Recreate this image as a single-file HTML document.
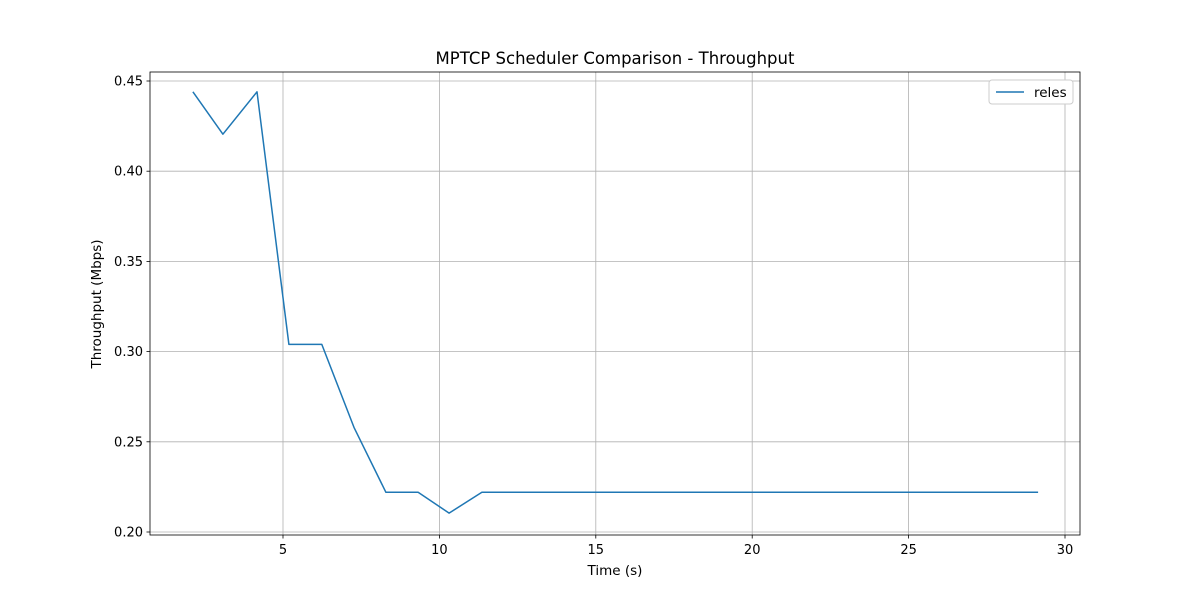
<!DOCTYPE html>
<html><head><meta charset="utf-8"><style>
body{margin:0;background:#fff;font-family:"Liberation Sans","DejaVu Sans",sans-serif}
svg text{font-family:"DejaVu Sans","Liberation Sans",sans-serif;fill:#000}
</style></head><body>
<svg id="chart" width="1200" height="600">
<rect width="1200" height="600" fill="#fff"/>
<g id="grid"></g>
<g id="xt"></g>
<g id="yt"></g>
<path id="line" fill="none" stroke="#1f77b4" stroke-width="1.5" stroke-linejoin="round"/>
<rect x="150" y="72" width="930" height="463" fill="none" stroke="#000" stroke-width="0.8"/>
<text x="615" y="64" text-anchor="middle" font-size="16.5">MPTCP Scheduler Comparison - Throughput</text>
<text x="615" y="575" text-anchor="middle" font-size="13.5">Time (s)</text>
<text transform="translate(101,304) rotate(-90)" text-anchor="middle" font-size="13.5">Throughput (Mbps)</text>
<g>
<rect x="989" y="80" width="84" height="24" rx="3" fill="#fff" stroke="#ccc"/>
<line x1="996" y1="92" x2="1024" y2="92" stroke="#1f77b4" stroke-width="1.5"/>
<text x="1034" y="97" font-size="13.5">reles</text>
</g>
</svg>
<script>
const times=[2.12,3.08,4.17,5.19,6.24,7.27,8.29,9.32,10.31,11.36,15,20,25,29.14];
const values=[0.444,0.4205,0.444,0.304,0.304,0.258,0.222,0.222,0.2105,0.222,0.222,0.222,0.222,0.222];
const xTicks=[5,10,15,20,25,30];
const yTicks=[0.20,0.25,0.30,0.35,0.40,0.45];
const ns="http://www.w3.org/2000/svg";
const X=v=>126.6+(v)*31.28;
const Y=v=>81+(0.45-v)/0.05*90.2;
const grid=document.getElementById('grid'),xt=document.getElementById('xt'),yt=document.getElementById('yt');
function mk(t,a,p){const e=document.createElementNS(ns,t);for(const k in a)e.setAttribute(k,a[k]);p.appendChild(e);return e;}
xTicks.forEach(v=>{const x=X(v);
const g=mk('line',{x1:x,x2:x,y1:72,y2:535,stroke:'#b0b0b0','stroke-width':0.8},grid);


mk('line',{x1:x,x2:x,y1:535,y2:538.5,stroke:'#000','stroke-width':0.8},xt);
const t=mk('text',{x:x,y:554,'text-anchor':'middle','font-size':13},xt);t.textContent=v;

});
yTicks.forEach(v=>{const y=Y(v);
const g=mk('line',{x1:150,x2:1080,y1:y,y2:y,stroke:'#b0b0b0','stroke-width':0.8},grid);


mk('line',{x1:146.5,x2:150,y1:y,y2:y,stroke:'#000','stroke-width':0.8},yt);
const t=mk('text',{x:143,y:y+4.5,'text-anchor':'end','font-size':13},yt);t.textContent=v.toFixed(2);

});
document.getElementById('line').setAttribute('d',times.map((t,i)=>(i?'L':'M')+X(t).toFixed(1)+' '+Y(values[i]).toFixed(1)).join(' '));
</script>
</body></html>
